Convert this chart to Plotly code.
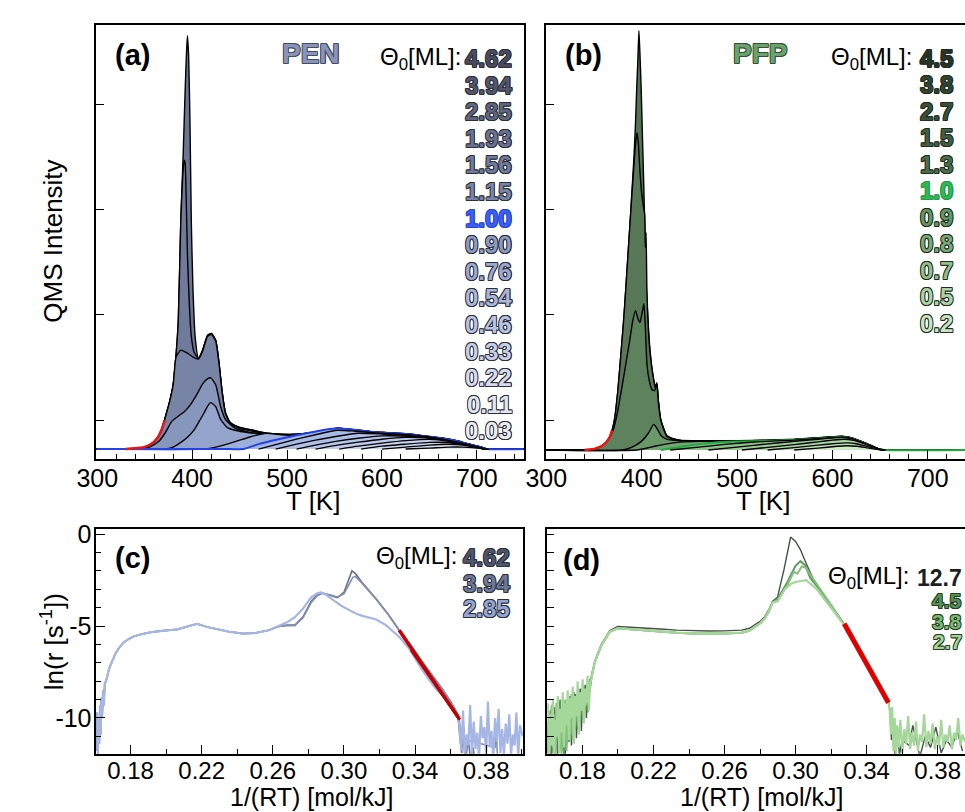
import plotly.graph_objects as go

W, H = 965, 812
FONT = "Liberation Sans, Arial, sans-serif"

def PX(x):
    return x / W

def PY(y):
    return 1 - y / H

# ======================= DATA =======================
# ---- panel (a): PEN TPD, T [K] vs QMS intensity (arb. units) ----
pen_cov = ["4.62", "3.94", "2.85", "1.93", "1.56", "1.15", "1.00",
           "0.90", "0.76", "0.54", "0.46", "0.33", "0.22", "0.11", "0.03"]

pen_462_T = [299, 320, 330, 340, 348, 355, 360, 364, 368, 372, 376, 380, 383, 385.4, 388, 390.5, 392.6, 394, 395, 396.3,
             397.7, 399.1, 400.8, 403.2, 406.6, 411, 416.2, 420.3, 424.8, 428.3, 431.7, 435, 440, 450, 464, 478, 494, 509,
             525, 540, 553, 565, 580, 594, 610, 629, 645, 663, 680, 691, 700, 711, 749.5]
pen_462_I = [0, 0, 0, 0.005, 0.015, 0.04, 0.075, 0.12, 0.2, 0.33, 0.47, 0.65, 0.95, 1.30, 2.30, 2.97, 3.63, 4.0, 4.18, 3.97,
             3.30, 2.30, 1.63, 1.13, 0.92, 1.00, 1.15, 1.17, 1.10, 0.87, 0.57, 0.37, 0.27, 0.22, 0.19, 0.16, 0.15, 0.15,
             0.165, 0.19, 0.212, 0.202, 0.187, 0.172, 0.162, 0.152, 0.132, 0.112, 0.082, 0.052, 0.032, 0.002, 0]

pen_394_T = [299, 320, 330, 340, 348, 355, 360, 364, 368, 372, 376, 380, 383, 385.4, 388, 390, 391.5, 392.5, 393.5, 395,
             397, 399, 402, 406.6, 411, 416.2, 420.3, 424.8, 428.3, 431.7, 435, 440, 450, 464, 478, 494, 509, 525, 540,
             553, 565, 580, 594, 610, 629, 645, 663, 680, 691, 700, 711, 749.5]
pen_394_I = [0, 0, 0, 0.005, 0.015, 0.04, 0.075, 0.12, 0.2, 0.33, 0.47, 0.65, 0.95, 1.30, 2.30, 2.75, 2.92, 2.90, 2.63, 1.97,
             1.47, 1.15, 0.98, 0.92, 1.00, 1.15, 1.17, 1.10, 0.87, 0.57, 0.37, 0.27, 0.22, 0.19, 0.16, 0.15, 0.15, 0.165,
             0.19, 0.212, 0.202, 0.187, 0.172, 0.162, 0.152, 0.132, 0.112, 0.082, 0.052, 0.032, 0.002, 0]

pen_285_T = [299, 320, 330, 340, 348, 355, 360, 364, 368, 372, 376, 380, 383, 388, 395, 401, 406.6,
             411, 416.2, 420.3, 424.8, 428.3, 431.7, 435, 440, 450, 464, 478, 494, 509, 525, 540, 553, 565, 580, 594, 610,
             629, 645, 663, 680, 691, 700, 711, 749.5]
pen_285_I = [0, 0, 0, 0.005, 0.015, 0.04, 0.075, 0.12, 0.2, 0.33, 0.47, 0.65, 0.93, 1.0, 0.97, 0.93, 0.91,
             0.99, 1.14, 1.16, 1.09, 0.86, 0.56, 0.36, 0.26, 0.21, 0.18, 0.155, 0.145, 0.147, 0.163, 0.188, 0.21,
             0.2, 0.185, 0.17, 0.16, 0.15, 0.13, 0.11, 0.08, 0.05, 0.03, 0.001, 0]

pen_193_T = [299, 340, 355, 365, 372, 378.5, 385, 392, 399, 406, 411, 416, 419.6, 424.8, 430, 435, 443.7, 455, 470, 490,
             509, 525, 540, 553, 565, 580, 594, 610, 629, 645, 663, 680, 691, 700, 711, 749.5]
pen_193_I = [0, 0, 0.02, 0.08, 0.17, 0.28, 0.33, 0.38, 0.46, 0.57, 0.66, 0.71, 0.72, 0.65, 0.43, 0.30, 0.22, 0.18, 0.155,
             0.145, 0.145, 0.16, 0.185, 0.208, 0.198, 0.183, 0.168, 0.158, 0.148, 0.128, 0.108, 0.078, 0.048, 0.028, 0.0, 0]

pen_156_T = [299, 370, 380, 388.5, 395, 402.5, 408, 412.8, 416, 419.6, 424.8, 430, 436.8, 445, 460, 478, 494, 509, 525,
             540, 553, 565, 580, 594, 610, 629, 645, 663, 680, 691, 700, 711, 749.5]
pen_156_I = [0, 0, 0.02, 0.07, 0.12, 0.20, 0.29, 0.37, 0.43, 0.47, 0.43, 0.30, 0.22, 0.19, 0.165, 0.15, 0.14, 0.14, 0.155,
             0.18, 0.205, 0.195, 0.18, 0.165, 0.155, 0.145, 0.125, 0.105, 0.075, 0.045, 0.025, 0.0, 0]

pen_115_T = [299, 412.8, 425, 435, 447, 460, 478, 494, 509, 525, 540, 553, 565, 580, 594, 610, 629, 645, 663, 680, 691,
             700, 711, 749.5]
pen_115_I = [0, 0, 0.02, 0.045, 0.08, 0.12, 0.16, 0.145, 0.14, 0.15, 0.178, 0.203, 0.193, 0.178, 0.163, 0.153, 0.143,
             0.123, 0.103, 0.073, 0.043, 0.023, 0.0, 0]

pen_100_T = [299, 440, 454, 470, 491, 510, 526, 540, 553, 565, 580, 594, 610, 629, 645, 663, 680, 691, 700, 711, 749.5]
pen_100_I = [0, 0, 0, 0.05, 0.10, 0.14, 0.17, 0.195, 0.21, 0.20, 0.185, 0.17, 0.16, 0.15, 0.13, 0.11, 0.08, 0.05, 0.03,
             0.0, 0]

pen_090_T = [470, 490, 510, 530, 553, 570, 594, 629, 663, 691, 705, 712]
pen_090_I = [0, 0.05, 0.10, 0.145, 0.19, 0.183, 0.163, 0.143, 0.103, 0.045, 0.01, 0]
pen_076_T = [488, 510, 530, 553, 575, 600, 629, 663, 691, 705, 712]
pen_076_I = [0, 0.05, 0.09, 0.13, 0.16, 0.153, 0.138, 0.098, 0.04, 0.01, 0]
pen_054_T = [510, 530, 553, 575, 600, 629, 663, 691, 705, 712]
pen_054_I = [0, 0.04, 0.08, 0.11, 0.133, 0.128, 0.093, 0.04, 0.01, 0]
pen_046_T = [530, 553, 575, 600, 625, 645, 663, 691, 708]
pen_046_I = [0, 0.04, 0.07, 0.10, 0.118, 0.113, 0.088, 0.035, 0]
pen_033_T = [555, 575, 600, 625, 650, 670, 691, 708]
pen_033_I = [0, 0.03, 0.06, 0.085, 0.098, 0.078, 0.033, 0]
pen_022_T = [578, 600, 625, 650, 670, 691, 708]
pen_022_I = [0, 0.03, 0.05, 0.068, 0.066, 0.03, 0]
pen_011_T = [600, 625, 650, 670, 685, 700, 710]
pen_011_I = [0, 0.02, 0.04, 0.048, 0.04, 0.015, 0]
pen_003_T = [625, 650, 670, 685, 700, 712]
pen_003_I = [0, 0.01, 0.02, 0.02, 0.01, 0]

pen_fit_T = [330, 340, 348, 355, 360, 364, 368, 371]
pen_fit_I = [0, 0.005, 0.015, 0.04, 0.075, 0.12, 0.2, 0.29]

# ---- panel (b): PFP TPD ----
pfp_cov = ["4.5", "3.8", "2.7", "1.5", "1.3", "1.0", "0.9", "0.8", "0.7", "0.5", "0.2"]

pfp_45_T = [300, 335, 344, 350, 355, 360, 363, 366.4, 369, 371.5, 375, 378.3, 381, 383.4, 385.6, 387.9, 390, 392.0, 393.5,
            394.7, 396, 397.1, 398.2, 399.5, 401, 402.3, 403.6, 404.9, 407, 409.0, 411.5, 414.2, 415.9, 417.5, 420, 426.2,
            433, 440, 460, 500, 530, 560, 585, 600, 610, 620, 630, 640, 648, 655, 739]
pfp_45_I = [0, 0, 0.002, 0.01, 0.025, 0.05, 0.08, 0.13, 0.2, 0.31, 0.6, 0.98, 1.3, 1.64, 1.97, 2.31, 2.65, 2.98, 3.3,
            3.64, 3.95, 4.24, 4.0, 3.64, 3.1, 2.64, 2.1, 1.64, 1.25, 0.98, 0.78, 0.64, 0.68, 0.5, 0.31, 0.15, 0.115, 0.10,
            0.095, 0.095, 0.10, 0.11, 0.125, 0.135, 0.14, 0.125, 0.09, 0.05, 0.015, 0, 0]

pfp_38_T = [300, 335, 344, 350, 355, 360, 363, 366.4, 369, 371.5, 375, 378.3, 381, 383.4, 385.6, 387.9, 390, 392, 393.8,
            395.2, 396.5, 398, 400, 402, 403.2, 403.8, 404.6, 405.5, 407, 409, 411.5, 414.2, 415.9, 417.5, 420, 426.2, 433,
            440, 460, 500, 530, 560, 585, 600, 610, 620, 630, 640, 648, 655, 739]
pfp_38_I = [0, 0, 0.002, 0.01, 0.025, 0.05, 0.08, 0.13, 0.2, 0.31, 0.6, 0.98, 1.3, 1.64, 1.97, 2.31, 2.62, 2.9, 3.12,
            3.21, 3.1, 2.85, 2.6, 2.45, 2.38, 2.05, 2.2, 1.6, 1.22, 0.96, 0.77, 0.63, 0.67, 0.49, 0.3, 0.145, 0.112, 0.098,
            0.093, 0.093, 0.098, 0.108, 0.123, 0.133, 0.138, 0.123, 0.088, 0.048, 0.014, 0, 0]

pfp_27_T = [300, 340, 350, 358, 364, 370, 375, 379, 383, 387, 390.5, 393.6, 396, 398.2, 400.3, 402.3, 403.8, 405.6, 408,
            410.8, 413.5, 415.9, 417.5, 420, 426.2, 433, 440, 460, 500, 530, 560, 585, 600, 610, 620, 630, 640, 648, 655,
            739]
pfp_27_I = [0, 0, 0.01, 0.04, 0.09, 0.2, 0.4, 0.62, 0.85, 1.08, 1.3, 1.41, 1.33, 1.29, 1.38, 1.48, 1.25, 0.86, 0.7, 0.61,
            0.6, 0.66, 0.48, 0.3, 0.14, 0.11, 0.097, 0.092, 0.092, 0.097, 0.107, 0.122, 0.132, 0.137, 0.122, 0.087, 0.047,
            0.013, 0, 0]

pfp_15_T = [300, 380, 390, 400, 407, 412.5, 416, 420, 426, 440, 460, 500, 530, 560, 585, 600, 610, 620, 630, 640, 648,
            655, 739]
pfp_15_I = [0, 0, 0.03, 0.09, 0.17, 0.26, 0.22, 0.15, 0.11, 0.094, 0.09, 0.09, 0.095, 0.105, 0.12, 0.13, 0.135, 0.12,
            0.085, 0.045, 0.012, 0, 0]

pfp_13_T = [300, 395, 410, 425, 440, 460, 480, 500, 530, 560, 585, 600, 610, 620, 630, 640, 648, 655, 739]
pfp_13_I = [0, 0, 0.03, 0.06, 0.08, 0.088, 0.088, 0.089, 0.094, 0.104, 0.118, 0.128, 0.133, 0.118, 0.083, 0.043, 0.011,
            0, 0]

pfp_10_T = [420, 440, 460, 480, 500, 530, 560, 585, 600, 610, 620, 630, 640, 648, 655, 739]
pfp_10_I = [0, 0.03, 0.06, 0.08, 0.087, 0.093, 0.103, 0.117, 0.127, 0.132, 0.117, 0.082, 0.042, 0.01, 0, 0]

pfp_09_T = [430, 460, 490, 525, 560, 585, 600, 610, 620, 630, 640, 648, 655]
pfp_09_I = [0, 0.03, 0.06, 0.085, 0.10, 0.115, 0.125, 0.13, 0.116, 0.081, 0.041, 0.01, 0]
pfp_08_T = [470, 500, 530, 560, 585, 600, 610, 620, 630, 640, 648, 655]
pfp_08_I = [0, 0.03, 0.06, 0.088, 0.11, 0.122, 0.128, 0.114, 0.08, 0.04, 0.01, 0]
pfp_07_T = [505, 530, 560, 585, 600, 612, 622, 632, 642, 650, 656]
pfp_07_I = [0, 0.025, 0.055, 0.083, 0.1, 0.11, 0.098, 0.068, 0.033, 0.01, 0]
pfp_05_T = [532, 560, 585, 605, 615, 625, 635, 645, 655]
pfp_05_I = [0, 0.025, 0.05, 0.068, 0.073, 0.064, 0.04, 0.015, 0]
pfp_02_T = [560, 585, 605, 615, 625, 635, 645, 655]
pfp_02_I = [0, 0.02, 0.038, 0.043, 0.039, 0.025, 0.01, 0]

pfp_fit_T = [340, 350, 358, 363, 366.5, 369]
pfp_fit_I = [0, 0.01, 0.04, 0.08, 0.13, 0.2]

# ---- panel (c): PEN ln(r) vs 1/(RT) ----
c_low_x = [0.1608, 0.1612, 0.1616, 0.1620, 0.1624, 0.1628, 0.1632, 0.1636, 0.1640, 0.1645, 0.1650, 0.1655, 0.1662,
           0.1670, 0.1680, 0.1697, 0.1715, 0.1734, 0.1760, 0.1790, 0.1820, 0.1860, 0.1917, 0.1990, 0.2064, 0.2120,
           0.2174, 0.2230, 0.2284, 0.2350, 0.2431, 0.2500, 0.2577, 0.2632]
c_low_y = [-11.8, -9.7, -12.1, -10.1, -11.4, -9.3, -10.9, -8.9, -10.0, -8.5, -9.3, -8.1, -8.0, -7.6, -7.3, -6.9, -6.5,
           -6.2, -5.9, -5.7, -5.55, -5.45, -5.33, -5.25, -5.18, -5.02, -4.88, -5.05, -5.18, -5.3, -5.41, -5.38, -5.23,
           -5.02]

c_462_x = [0.2680, 0.2724, 0.2770, 0.2816, 0.2850, 0.2880, 0.2920, 0.2963, 0.3000, 0.3025, 0.3045, 0.3065, 0.3100,
           0.3182, 0.3250, 0.3311, 0.3380, 0.3440, 0.3500, 0.3550, 0.3600, 0.3641,
           0.3650, 0.3662, 0.3674, 0.3686, 0.3698, 0.3712, 0.3726, 0.3740]
c_462_y = [-4.95, -4.95, -4.5, -3.65, -3.3, -3.2, -3.32, -3.45, -3.17, -2.5, -2.0, -2.15, -2.6, -3.53, -4.37, -5.23,
           -6.1, -6.94, -7.7, -8.37, -9.1, -9.8,
           -10.2, -11.9, -10.5, -12.3, -11.0, -12.3, -11.6, -12.5]

c_394_x = [0.2680, 0.2724, 0.2770, 0.2816, 0.2850, 0.2880, 0.2920, 0.2963, 0.3000, 0.3030, 0.3050, 0.3065, 0.3100,
           0.3182, 0.3250, 0.3311, 0.3380, 0.3440, 0.3500, 0.3550, 0.3600, 0.3641,
           0.3655, 0.3668, 0.3680, 0.3693, 0.3850, 0.3856, 0.3862, 0.3868]
c_394_y = [-4.98, -4.98, -4.55, -3.72, -3.35, -3.22, -3.3, -3.42, -3.25, -2.75, -2.35, -2.3, -2.65, -3.55, -4.38, -5.24,
           -6.1, -6.95, -7.72, -8.4, -9.1, -9.85,
           -11.4, -10.4, -12.1, -11.2, -11.6, -10.3, -11.8, -12.4]

c_285_x = [0.2680, 0.2724, 0.2770, 0.2816, 0.2850, 0.2871, 0.2900, 0.2944, 0.2990, 0.3036, 0.3070, 0.3109, 0.3150,
           0.3182, 0.3238, 0.3311, 0.3366, 0.3440, 0.3513, 0.3586, 0.3641,
           0.3650, 0.3660, 0.3670, 0.3680, 0.3690, 0.3700, 0.3710, 0.3720, 0.3730, 0.3740, 0.3750, 0.3760, 0.3770,
           0.3780, 0.3790, 0.3800, 0.3810, 0.3820, 0.3830, 0.3840, 0.3850, 0.3860, 0.3870, 0.3880, 0.3890, 0.3900,
           0.3910, 0.3920, 0.3930, 0.3940, 0.3950, 0.3960, 0.3970, 0.3980, 0.3990, 0.4005]
c_285_y = [-4.8, -4.52, -4.05, -3.44, -3.22, -3.17, -3.3, -3.62, -3.92, -4.16, -4.33, -4.46, -4.55, -4.64, -4.96, -5.59,
           -6.22, -7.38, -8.37, -9.09, -9.98,
           -10.4, -11.8, -9.6, -12.1, -10.9, -11.5, -9.3, -12.0, -10.2, -11.7, -10.8, -12.2, -9.9, -11.1, -10.5, -12.0,
           -9.1, -11.6, -10.7, -12.2, -10.0, -11.3, -9.5, -11.9, -10.6, -12.1, -10.3, -11.4, -9.8, -12.0, -10.9, -11.5,
           -9.7, -12.2, -10.4, -11.0]

c_fit1_x = [0.3311, 0.3650]
c_fit1_y = [-5.23, -10.07]
c_fit2_x = [0.3377, 0.3652]
c_fit2_y = [-6.3, -10.1]

# ---- panel (d): PFP ln(r) vs 1/(RT) ----
d_noise_x = [0.1605, 0.1612, 0.1619, 0.1626, 0.1633, 0.1640, 0.1647, 0.1654, 0.1661, 0.1668, 0.1675, 0.1682, 0.1689,
             0.1696, 0.1703, 0.1710, 0.1717, 0.1724, 0.1731, 0.1738, 0.1745, 0.1752, 0.1759, 0.1766, 0.1773, 0.1780,
             0.1787, 0.1794, 0.1801, 0.1808, 0.1815, 0.1822, 0.1829, 0.1836, 0.1843, 0.1850]
d_127_noise_y = [-10.5, -11.8, -9.6, -12.3, -10.8, -9.4, -11.7, -10.2, -12.1, -9.1, -10.9, -11.8, -9.7, -10.5, -12.2,
                 -9.3, -11.0, -10.1, -8.8, -11.5, -9.6, -10.3, -8.7, -11.1, -9.4, -9.9, -8.4, -10.7, -8.9, -9.5, -8.2,
                 -10.0, -8.5, -9.0, -7.9, -7.8]
d_45_noise_y = [-11.9, -10.0, -12.2, -9.5, -11.3, -10.6, -12.0, -9.2, -11.1, -10.3, -9.0, -11.7, -9.9, -12.1, -9.4,
                -10.8, -9.7, -11.3, -8.9, -10.4, -11.0, -8.6, -10.2, -9.2, -10.6, -8.5, -9.8, -8.8, -10.1, -8.3, -9.4,
                -8.6, -9.7, -8.0, -8.4, -7.8]
d_38_noise_y = [-10.2, -12.1, -10.9, -9.3, -11.6, -9.8, -12.2, -10.5, -9.1, -11.3, -10.0, -12.0, -9.4, -11.1, -9.0,
                -11.8, -10.2, -9.5, -10.9, -8.7, -11.2, -9.3, -10.4, -8.8, -9.9, -10.5, -8.6, -9.6, -8.2, -9.9, -8.7,
                -9.3, -8.0, -8.9, -8.2, -7.8]
d_27_noise_y = [-9.2, -12.0, -9.8, -11.5, -9.0, -12.2, -10.1, -11.0, -8.8, -11.9, -9.5, -10.8, -8.6, -11.6, -9.2,
                -10.4, -8.5, -11.2, -8.9, -10.0, -8.3, -11.4, -8.8, -9.9, -8.0, -10.9, -8.6, -9.6, -7.9, -10.3, -8.4,
                -9.2, -7.7, -9.6, -8.1, -7.9]

d_mid_x = [0.1870, 0.1907, 0.1953, 0.1998, 0.2070, 0.2145, 0.2240, 0.2329, 0.2420, 0.2512, 0.2600, 0.2696, 0.2740,
           0.2770, 0.2800, 0.2825, 0.2850, 0.2871]
d_mid_y = [-6.94, -6.04, -5.32, -5.12, -5.17, -5.23, -5.3, -5.36, -5.4, -5.41, -5.4, -5.36, -5.25, -5.05, -4.85, -4.6,
           -4.2, -3.71]
d_127_mid_y = [-6.9, -5.98, -5.25, -5.02, -5.05, -5.1, -5.16, -5.22, -5.26, -5.27, -5.26, -5.22, -5.12, -4.95, -4.75,
               -4.5, -4.1, -3.65]

d_127_x = [0.2898, 0.2935, 0.2955, 0.2972, 0.3000, 0.3027, 0.3060, 0.3100, 0.3180, 0.3266, 0.3350, 0.3440, 0.3523]
d_127_y = [-3.44, -1.92, -0.9, -0.16, -0.4, -0.84, -1.6, -2.46, -3.65, -4.78, -6.2, -7.65, -9.08]
d_45_x = [0.2900, 0.2953, 0.2999, 0.3027, 0.3055, 0.3082, 0.3155, 0.3266, 0.3350, 0.3440, 0.3523]
d_45_y = [-3.5, -2.63, -1.74, -1.47, -1.7, -2.37, -3.26, -4.8, -6.2, -7.65, -9.1]
d_38_x = [0.2900, 0.2953, 0.2990, 0.3010, 0.3035, 0.3060, 0.3100, 0.3175, 0.3266, 0.3350, 0.3440, 0.3523]
d_38_y = [-3.6, -2.78, -2.05, -2.15, -1.75, -1.85, -2.45, -3.5, -4.82, -6.22, -7.68, -9.12]
d_27_x = [0.2900, 0.2940, 0.2975, 0.2999, 0.3027, 0.3060, 0.3120, 0.3192, 0.3266, 0.3350, 0.3440, 0.3523]
d_27_y = [-3.65, -3.0, -2.7, -2.6, -2.55, -2.5, -3.0, -3.89, -4.85, -6.25, -7.7, -9.15]

d_tail_x = [0.3530, 0.3537, 0.3544, 0.3551, 0.3558, 0.3565, 0.3572, 0.3579, 0.3590, 0.3601, 0.3612, 0.3623, 0.3634,
            0.3645, 0.3656, 0.3667, 0.3678, 0.3689, 0.3700, 0.3712, 0.3724, 0.3736, 0.3748, 0.3760, 0.3772, 0.3784,
            0.3796, 0.3808, 0.3820, 0.3832, 0.3844, 0.3856, 0.3868, 0.3880, 0.3892, 0.3904, 0.3916, 0.3928, 0.3940,
            0.3955]
d_light_tail_y = [-9.6, -10.9, -9.4, -11.8, -10.0, -12.2, -10.4, -11.6, -10.1, -11.9, -10.6, -11.4, -9.9, -11.7, -10.8,
                  -11.5, -10.2, -11.8, -10.9, -11.3, -9.8, -11.6, -10.7, -11.4, -10.3, -11.7, -11.0, -11.5, -10.1, -11.6,
                  -10.9, -11.3, -10.4, -11.7, -10.8, -11.2, -10.0, -11.5, -10.9, -11.3]
d_127_tail_x = [0.3530, 0.3540, 0.3550, 0.3560, 0.3572, 0.3585, 0.3600, 0.3640, 0.3660, 0.3700, 0.3730, 0.3760, 0.3790,
                0.3820, 0.3850, 0.3880, 0.3910, 0.3940]
d_127_tail_y = [-9.5, -11.2, -10.1, -12.3, -10.6, -12.0, -11.2, -11.5, -10.4, -12.1, -11.0, -11.6, -10.5, -11.9, -11.2,
                -11.6, -10.7, -11.8]

d_fit_x = [0.3274, 0.3523]
d_fit_y = [-4.87, -9.17]

# ======================= STYLES =======================
pen_fill = ["rgb(108,118,148)", "rgb(112,123,155)", "rgb(120,132,166)", "rgb(135,150,188)", "rgb(148,164,205)",
            "rgb(157,175,218)", "rgb(163,182,228)", "rgb(168,186,230)", "rgb(175,191,232)", "rgb(182,197,234)",
            "rgb(190,203,236)", "rgb(198,209,238)", "rgb(206,215,240)", "rgb(214,221,242)", "rgb(222,227,244)"]
pen_txt = ["rgb(72,76,92)", "rgb(82,88,108)", "rgb(95,102,126)", "rgb(105,114,145)", "rgb(112,122,156)",
           "rgb(122,132,166)", "rgb(60,95,245)", "rgb(140,154,194)", "rgb(155,168,208)", "rgb(170,182,218)",
           "rgb(184,194,226)", "rgb(200,207,232)", "rgb(214,219,238)", "rgb(226,229,240)", "rgb(236,237,242)"]
pfp_fill = ["rgb(84,114,84)", "rgb(88,120,88)", "rgb(94,130,94)", "rgb(106,152,106)", "rgb(116,166,116)",
            "rgb(126,182,126)", "rgb(140,194,137)", "rgb(154,204,150)", "rgb(170,214,164)", "rgb(187,224,180)",
            "rgb(206,234,200)"]
pfp_txt = ["rgb(40,52,40)", "rgb(50,68,50)", "rgb(58,80,58)", "rgb(66,94,66)", "rgb(76,110,76)", "rgb(45,185,85)",
           "rgb(100,150,100)", "rgb(122,170,120)", "rgb(146,190,140)", "rgb(172,210,165)", "rgb(202,226,196)"]

fig = go.Figure()

def tpd(x, y, fill, xa, ya, lc="black", lw=1.4):
    fig.add_trace(go.Scatter(x=x, y=y, mode="lines", fill="tozeroy", fillcolor=fill,
                             line=dict(color=lc, width=lw, shape="spline", smoothing=0.5),
                             xaxis=xa, yaxis=ya, hoverinfo="skip"))

pen_curves = [(pen_462_T, pen_462_I), (pen_394_T, pen_394_I), (pen_285_T, pen_285_I), (pen_193_T, pen_193_I),
              (pen_156_T, pen_156_I), (pen_115_T, pen_115_I), (pen_100_T, pen_100_I), (pen_090_T, pen_090_I),
              (pen_076_T, pen_076_I), (pen_054_T, pen_054_I), (pen_046_T, pen_046_I), (pen_033_T, pen_033_I),
              (pen_022_T, pen_022_I), (pen_011_T, pen_011_I), (pen_003_T, pen_003_I)]
for i, (tx, iy) in enumerate(pen_curves):
    if pen_cov[i] == "1.00":
        tpd(tx, iy, pen_fill[i], "x", "y", lc="rgb(35,65,235)", lw=2)
    else:
        tpd(tx, iy, pen_fill[i], "x", "y")
fig.add_trace(go.Scatter(x=pen_fit_T, y=pen_fit_I, mode="lines", line=dict(color="rgb(235,20,20)", width=2.5),
                         xaxis="x", yaxis="y", hoverinfo="skip"))

pfp_curves = [(pfp_45_T, pfp_45_I), (pfp_38_T, pfp_38_I), (pfp_27_T, pfp_27_I), (pfp_15_T, pfp_15_I),
              (pfp_13_T, pfp_13_I), (pfp_10_T, pfp_10_I), (pfp_09_T, pfp_09_I), (pfp_08_T, pfp_08_I),
              (pfp_07_T, pfp_07_I), (pfp_05_T, pfp_05_I), (pfp_02_T, pfp_02_I)]
for i, (tx, iy) in enumerate(pfp_curves):
    if pfp_cov[i] == "1.0":
        tpd(tx, iy, pfp_fill[i], "x2", "y2", lc="rgb(30,170,60)", lw=2)
    else:
        tpd(tx, iy, pfp_fill[i], "x2", "y2")
fig.add_trace(go.Scatter(x=pfp_fit_T, y=pfp_fit_I, mode="lines", line=dict(color="rgb(235,20,20)", width=2.5),
                         xaxis="x2", yaxis="y2", hoverinfo="skip"))

def ln_line(x, y, color, xa, ya, lw=2.0):
    fig.add_trace(go.Scatter(x=x, y=y, mode="lines", line=dict(color=color, width=lw),
                             xaxis=xa, yaxis=ya, hoverinfo="skip"))

ln_line(c_low_x + c_462_x, c_low_y + c_462_y, "rgb(105,112,140)", "x3", "y3", lw=1.6)
ln_line(c_low_x + c_394_x, c_low_y + c_394_y, "rgb(132,142,178)", "x3", "y3", lw=1.6)
ln_line(c_low_x + c_285_x, c_low_y + c_285_y, "rgb(165,182,228)", "x3", "y3", lw=2.2)
ln_line(c_fit1_x, c_fit1_y, "rgb(200,0,0)", "x3", "y3", lw=3.5)
ln_line(c_fit2_x, c_fit2_y, "rgb(190,0,0)", "x3", "y3", lw=2.5)

ln_line(d_noise_x + d_mid_x + d_127_x + d_127_tail_x, d_127_noise_y + d_127_mid_y + d_127_y + d_127_tail_y,
        "rgb(70,80,70)", "x4", "y4", lw=1.4)
ln_line(d_noise_x + d_mid_x + d_45_x, d_45_noise_y + d_mid_y + d_45_y, "rgb(95,155,95)", "x4", "y4")
ln_line(d_noise_x + d_mid_x + d_38_x, d_38_noise_y + d_mid_y + d_38_y, "rgb(128,192,122)", "x4", "y4")
ln_line(d_noise_x + d_mid_x + d_27_x + d_tail_x, d_27_noise_y + d_mid_y + d_27_y + d_light_tail_y,
        "rgb(165,215,155)", "x4", "y4", lw=2.2)
ln_line(d_fit_x, d_fit_y, "rgb(225,0,0)", "x4", "y4", lw=5)

# ======================= AXES =======================
def axis_common(fs=25):
    return dict(showline=True, linecolor="black", linewidth=1.6, mirror=True, ticks="inside",
                tickcolor="black", tickwidth=1.3, showgrid=False, zeroline=False,
                tickfont=dict(family=FONT, size=fs, color="black"))

ax_a = axis_common()
ax_a.update(domain=[77 / W, 514 / W], range=[299, 749.5], anchor="y", tickvals=[300, 400, 500, 600, 700],
            ticklen=9, ticklabelstandoff=-4,
            minor=dict(dtick=20, tick0=300, ticklen=5, ticks="inside", tickcolor="black"))
ay_a = axis_common()
ay_a.update(domain=[PY(455), PY(16)], range=[-0.10, 4.29], anchor="x", tickvals=[0.29, 1.36, 2.42, 3.48],
            showticklabels=False, ticklen=8)

ax_b = axis_common()
ax_b.update(domain=[537 / W, 1.0], range=[300, 739], anchor="y2", tickvals=[300, 400, 500, 600, 700],
            ticklen=9, ticklabelstandoff=-4,
            minor=dict(dtick=20, tick0=300, ticklen=5, ticks="inside", tickcolor="black"))
ay_b = axis_common()
ay_b.update(domain=[PY(455), PY(16)], range=[-0.09, 4.30], anchor="x2", tickvals=[0.30, 1.37, 2.43, 3.49],
            showticklabels=False, ticklen=8, mirror=False)

x_ticks_ln = [0.18, 0.22, 0.26, 0.30, 0.34, 0.38]
x_text_ln = ["0.18", "0.22", "0.26", "0.30", "0.34", "0.38"]
y_ticks_ln = [0, -5, -10]
y_text_ln = ["0", "-5", "-10"]

ax_c = axis_common(24)
ax_c.update(domain=[77 / W, 513 / W], range=[0.16074, 0.40063], anchor="y3", tickvals=x_ticks_ln,
            ticktext=x_text_ln, ticklen=9, ticklabelstandoff=-5,
            minor=dict(dtick=0.02, tick0=0.16, ticklen=5, ticks="inside", tickcolor="black"))
ay_c = axis_common()
ay_c.update(domain=[PY(753), PY(526)], range=[-11.94, 0.27], anchor="x3", tickvals=y_ticks_ln,
            ticktext=y_text_ln, ticklen=9, ticklabelstandoff=-2,
            minor=dict(dtick=1, tick0=0, ticklen=5, ticks="inside", tickcolor="black"))

ax_d = axis_common(24)
ax_d.update(domain=[538 / W, 1.0], range=[0.1602, 0.3954], anchor="y4", tickvals=x_ticks_ln,
            ticktext=x_text_ln, ticklen=9, ticklabelstandoff=-5,
            minor=dict(dtick=0.02, tick0=0.16, ticklen=5, ticks="inside", tickcolor="black"))
ay_d = axis_common()
ay_d.update(domain=[PY(753), PY(526)], range=[-11.94, 0.27], anchor="x4", tickvals=y_ticks_ln,
            showticklabels=False, ticklen=7, mirror=False,
            minor=dict(dtick=1, tick0=0, ticklen=7, ticks="inside", tickcolor="black"))

# ======================= TEXT =======================
def outline(c, w=0.8):
    return (f"-{w}px -{w}px 0 {c}, {w}px -{w}px 0 {c}, -{w}px {w}px 0 {c}, {w}px {w}px 0 {c}, "
            f"0 -{w}px 0 {c}, 0 {w}px 0 {c}, -{w}px 0 0 {c}, {w}px 0 0 {c}")

ann = []

def text(x, y, s, size=24, color="black", bold=False, xanchor="center", shadow=None, angle=0):
    f = dict(family=FONT, size=size, color=color)
    if shadow:
        f["shadow"] = shadow
    if bold:
        f["weight"] = "bold"
    ann.append(dict(x=PX(x), y=PY(y), xref="paper", yref="paper", text=s, showarrow=False, font=f,
                    xanchor=xanchor, yanchor="middle", textangle=angle))

theta = "\u0398<sub>0</sub>[ML]:"

# panel (a)
text(114, 47, "(a)", size=29, bold=True)
text(296, 45, "PEN", size=28, bold=True, color="rgb(138,148,186)", shadow=outline("rgb(70,76,96)"))
text(452, 50, theta, size=24, xanchor="right")
for i, lab in enumerate(pen_cov):
    oc = "rgb(40,70,200)" if lab == "1.00" else "rgb(45,48,60)"
    text(504, 50 + 26.9 * i, lab, size=24, bold=True, color=pen_txt[i], xanchor="right", shadow=outline(oc))

# panel (b)
text(575, 47, "(b)", size=29, bold=True)
text(755, 45, "PFP", size=28, bold=True, color="rgb(108,160,108)", shadow=outline("rgb(50,82,50)"))
text(913, 50, theta, size=24, xanchor="right")
for i, lab in enumerate(pfp_cov):
    oc = "rgb(40,150,70)" if lab == "1.0" else "rgb(30,45,30)"
    text(917, 50 + 26.8 * i, lab, size=24, bold=True, color=pfp_txt[i], xanchor="left", shadow=outline(oc))

# panel (c)
text(114, 555, "(c)", size=29, bold=True)
text(448, 555, theta, size=24, xanchor="right")
c_lab = ["4.62", "3.94", "2.85"]
c_col = ["rgb(80,86,108)", "rgb(110,120,150)", "rgb(150,166,212)"]
for i, lab in enumerate(c_lab):
    text(502, 555 + 25.8 * i, lab, size=24, bold=True, color=c_col[i], xanchor="right",
         shadow=outline("rgb(45,48,60)"))

# panel (d)
text(573, 557, "(d)", size=29, bold=True)
text(910, 575, theta, size=24, xanchor="right")
text(964, 575, "12.7", size=23, bold=True, color="rgb(30,30,30)", xanchor="right")
d_lab = ["4.5", "3.8", "2.7"]
d_col = ["rgb(85,145,85)", "rgb(125,185,115)", "rgb(165,212,152)"]
for i, lab in enumerate(d_lab):
    text(964, 598 + 21 * i, lab, size=21, bold=True, color=d_col[i], xanchor="right",
         shadow=outline("rgb(35,60,35)"))

# axis titles
text(33, 235, "QMS Intensity", size=26, angle=-90)
text(298, 498, "T [K]", size=26)
text(758, 498, "T [K]", size=26)
text(33, 640, "ln(r [s<sup>-1</sup>])", size=26, angle=-90)
text(297, 797, "1/(RT) [mol/kJ]", size=25)
text(757, 797, "1/(RT) [mol/kJ]", size=25)

fig.update_layout(
    width=W, height=H, margin=dict(l=0, r=0, t=0, b=0),
    paper_bgcolor="white", plot_bgcolor="white", showlegend=False,
    font=dict(family=FONT, color="black"),
    xaxis=ax_a, yaxis=ay_a, xaxis2=ax_b, yaxis2=ay_b,
    xaxis3=ax_c, yaxis3=ay_c, xaxis4=ax_d, yaxis4=ay_d,
    annotations=ann,
)

fig.write_html("out.html", config={"displayModeBar": False},
               post_script="document.body.style.margin='0px';")
